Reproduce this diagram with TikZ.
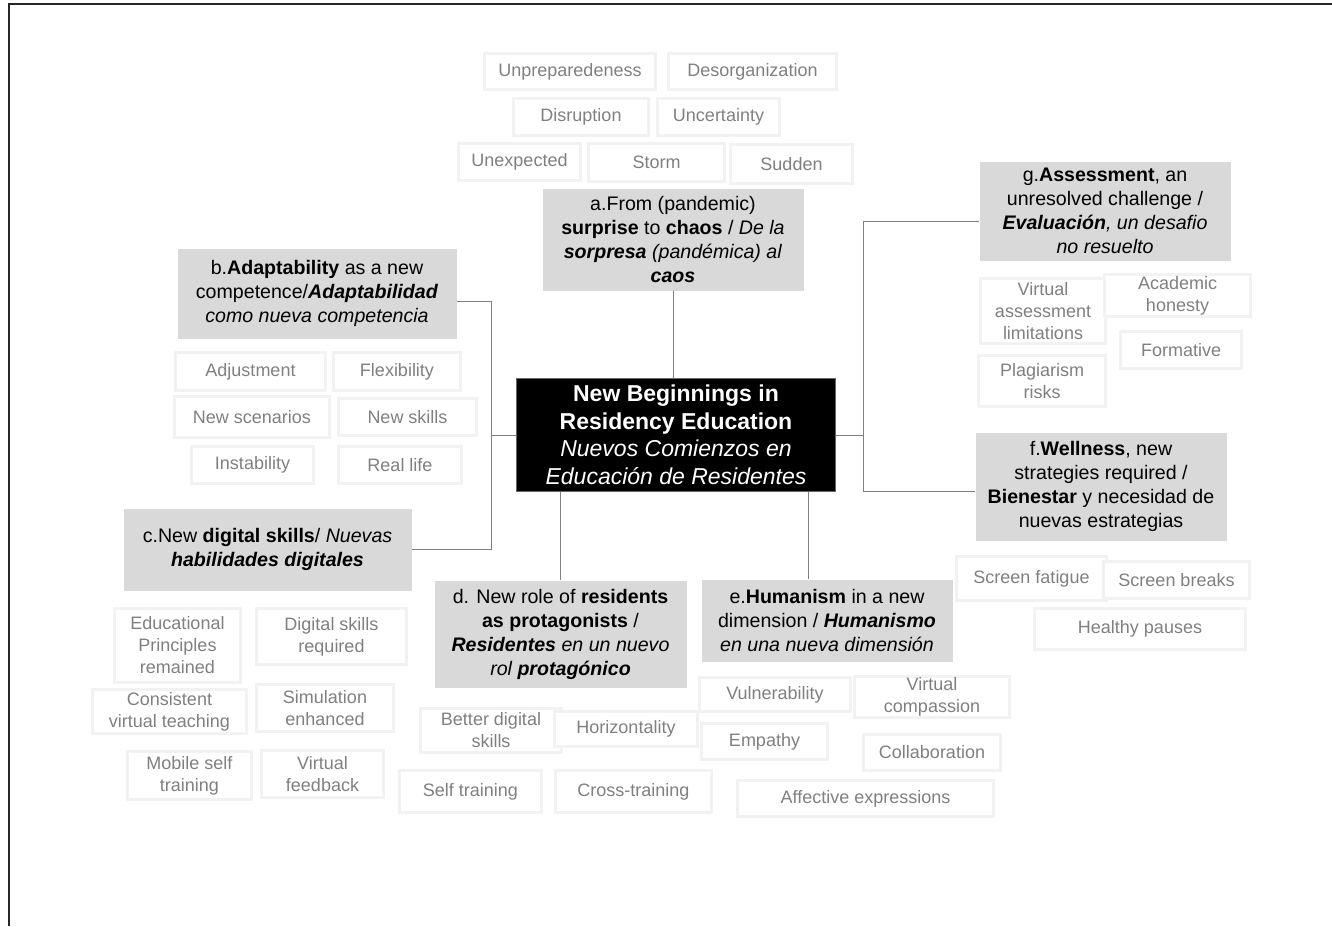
\documentclass[tikz,border=0pt]{standalone}
\usepackage{fontspec}
\setmainfont{Liberation Sans}
\newcommand{\mbx}[7]{%
  \node[#1, minimum width={(#5)-(#3)-3}, minimum height={(#6)-(#4)-3}] (#2) at ({((#3)+(#5))/2},{((#4)+(#6))/2}) {#7};%
}
\begin{document}
\begin{tikzpicture}[x=1pt,y=-1pt,
  leaf/.style={draw=black!5, line width=3pt, fill=white, text=black!50,
    font=\fontsize{18}{22}\selectfont, align=center, inner sep=0pt},
  topic/.style={fill=black!15, text=black, font=\fontsize{19.6}{24}\selectfont,
    align=center, inner sep=0pt},
  hub/.style={fill=black, draw=black!60, line width=1pt, text=white,
    font=\fontsize{23}{27.5}\selectfont, align=center, inner sep=0pt},
  link/.style={draw=black!50, line width=1pt},
  frame/.style={draw=black!85, line width=1.5pt}]
\useasboundingbox (0,0) rectangle (1332,926);
\draw[frame] (9,926) -- (9,4) -- (1332,4);

% hub
\mbx{hub}{hub}{515}{377}{837}{493}{\textbf{New Beginnings in}\\\textbf{Residency Education}\\\textit{Nuevos Comienzos en}\\\textit{Educación de Residentes}}

% topics
\mbx{topic}{a}{541}{187}{805}{292}{a.From (pandemic)\\\textbf{surprise} to \textbf{chaos} / \textit{De la}\\\textit{\textbf{sorpresa} (pandémica) al}\\\textbf{\textit{caos}}}
\mbx{topic}{b}{176}{247}{458}{340}{b.\textbf{Adaptability} as a new\\competence/\textbf{\textit{Adaptabilidad}}\\\textit{como nueva competencia}}
\mbx{topic}{c}{122}{507}{413}{592}{c.New \textbf{digital skills}/ \textit{Nuevas}\\\textbf{\textit{habilidades digitales}}}
\mbx{topic}{d}{433}{579}{688}{689}{d. New role of \textbf{residents}\\\textbf{as protagonists} /\\\textbf{\textit{Residentes}} \textit{en un nuevo}\\\textit{rol \textbf{protagónico}}}
\mbx{topic}{e}{700}{578}{954}{663}{e.\textbf{Humanism} in a new\\dimension / \textbf{\textit{Humanismo}}\\\textit{en una nueva dimensión}}
\mbx{topic}{f}{974}{431}{1228}{542}{f.\textbf{Wellness}, new\\strategies required /\\\textbf{Bienestar} y necesidad de\\nuevas estrategias}
\mbx{topic}{g}{978}{160}{1232}{262}{g.\textbf{Assessment}, an\\unresolved challenge /\\\textbf{\textit{Evaluación}}\textit{, un desafio}\\\textit{no resuelto}}

% leaves a
\mbx{leaf}{a1}{483}{52}{657}{91}{Unpreparedeness}
\mbx{leaf}{a2}{667}{52}{838}{91}{Desorganization}
\mbx{leaf}{a3}{512}{97}{650}{137}{Disruption}
\mbx{leaf}{a4}{656}{97}{781}{137}{Uncertainty}
\mbx{leaf}{a5}{457}{142}{582}{182}{Unexpected}
\mbx{leaf}{a6}{587}{142}{726}{183}{Storm}
\mbx{leaf}{a7}{729}{143}{854}{185}{Sudden}

% leaves b
\mbx{leaf}{b1}{174}{351}{327}{392}{Adjustment}
\mbx{leaf}{b2}{332}{351}{462}{392}{Flexibility}
\mbx{leaf}{b3}{173}{395}{331}{439}{New scenarios}
\mbx{leaf}{b4}{337}{397}{478}{437}{New skills}
\mbx{leaf}{b5}{190}{445}{315}{485}{Instability}
\mbx{leaf}{b6}{337}{445}{463}{485}{Real life}

% leaves c
\mbx{leaf}{c1}{113}{607}{242}{684}{Educational\\Principles\\remained}
\mbx{leaf}{c2}{255}{607}{408}{666}{Digital skills\\required}
\mbx{leaf}{c3}{91}{688}{248}{735}{Consistent\\virtual teaching}
\mbx{leaf}{c4}{255}{683}{395}{733}{Simulation\\enhanced}
\mbx{leaf}{c5}{126}{750}{253}{801}{Mobile self\\training}
\mbx{leaf}{c6}{260}{749}{385}{799}{Virtual\\feedback}

% leaves d
\mbx{leaf}{d1}{419}{707}{563}{754}{Better digital\\skills}
\mbx{leaf}{d2}{553}{710}{699}{748}{Horizontality}
\mbx{leaf}{d3}{398}{769}{543}{814}{Self training}
\mbx{leaf}{d4}{554}{769}{713}{814}{Cross-training}

% leaves e
\mbx{leaf}{e1}{698}{676}{852}{713}{Vulnerability}
\mbx{leaf}{e2}{853}{675}{1011}{719}{Virtual\\compassion}
\mbx{leaf}{e3}{700}{722}{829}{761}{Empathy}
\mbx{leaf}{e4}{862}{733}{1002}{772}{Collaboration}
\mbx{leaf}{e5}{736}{779}{995}{818}{Affective expressions}

% leaves f
\mbx{leaf}{f1}{955}{555}{1108}{602}{Screen fatigue}
\mbx{leaf}{f2}{1102}{560}{1251}{600}{Screen breaks}
\mbx{leaf}{f3}{1033}{607}{1247}{651}{Healthy pauses}

% leaves g
\mbx{leaf}{g1}{979}{277}{1107}{345}{Virtual\\assessment\\limitations}
\mbx{leaf}{g2}{1103}{273}{1252}{318}{Academic\\honesty}
\mbx{leaf}{g3}{1119}{330}{1243}{370}{Formative}
\mbx{leaf}{g4}{977}{354}{1107}{408}{Plagiarism\\risks}

% connectors
\coordinate (bj) at (491,301);
\coordinate (ej) at (808,540);
\coordinate (gj) at (863,221);
\coordinate (fj) at (863,491);
\draw[link] (a.south) -- (a.south |- hub.north);
\draw[link] (b.east |- bj) -- (bj) -- (bj |- c.east) -- (c.east);
\draw[link] (bj |- hub.west) -- (hub.west);
\draw[link] (d.north) -- (d.north |- hub.south);
\draw[link] (ej |- hub.south) -- (ej |- e.north);
\draw[link] (hub.east) -- (gj |- hub.east);
\draw[link] (gj -| g.west) -- (gj) -- (fj) -- (fj -| f.west);
\end{tikzpicture}
\end{document}
